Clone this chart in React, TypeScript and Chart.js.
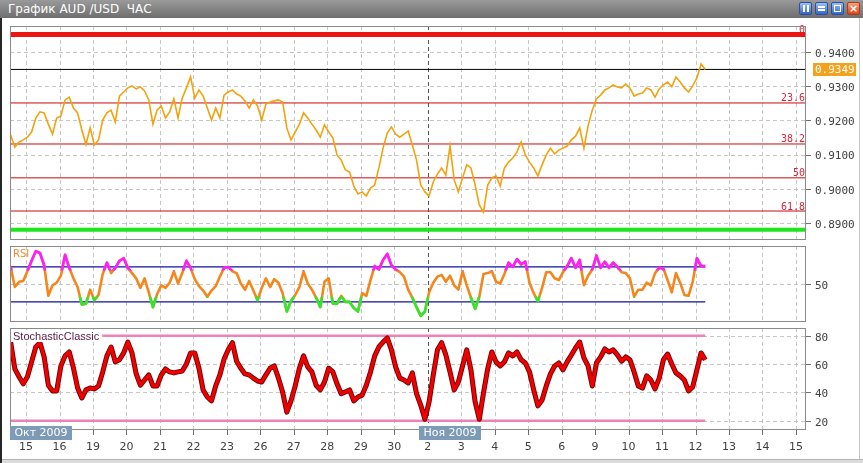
import React, { useEffect, useRef } from 'react';
import { Chart, registerables } from 'chart.js';

Chart.register(...registerables);

// ---------------- data ----------------
const title = 'График AUD /USD  ЧАС';
const dayLabels = ['15', '16', '19', '20', '21', '22', '23', '26', '27', '28', '29', '30', '2', '3', '4', '5', '6', '9', '10', '11', '12', '13', '14', '15'];
const monthLabels = ['Окт 2009', 'Ноя 2009'];
const monthStarts = [-0.48, 11.73];
const monthSeparator = 12;
const xMin = -0.48;
const xMax = 23.3;
const sampleStart = -0.46;
const samplesPerDay = 8;

const priceValues = [
  0.9157, 0.9122, 0.9137, 0.9143, 0.9151, 0.9166, 0.9207, 0.9225, 0.9222, 0.9189,
  0.9160, 0.9207, 0.9213, 0.9260, 0.9268, 0.9236, 0.9222, 0.9172, 0.9130, 0.9178,
  0.9128, 0.9143, 0.9201, 0.9222, 0.9230, 0.9195, 0.9271, 0.9283, 0.9295, 0.9301,
  0.9292, 0.9298, 0.9286, 0.9260, 0.9189, 0.9230, 0.9242, 0.9207, 0.9225, 0.9263,
  0.9207, 0.9265, 0.9295, 0.9327, 0.9265, 0.9289, 0.9271, 0.9236, 0.9201, 0.9236,
  0.9207, 0.9274, 0.9283, 0.9289, 0.9277, 0.9271, 0.9257, 0.9236, 0.9260, 0.9242,
  0.9201, 0.9248, 0.9254, 0.9257, 0.9260, 0.9254, 0.9178, 0.9143, 0.9166, 0.9189,
  0.9222, 0.9207, 0.9189, 0.9172, 0.9151, 0.9187, 0.9166, 0.9149, 0.9099, 0.9084,
  0.9055, 0.9049, 0.9008, 0.8985, 0.8991, 0.8979, 0.9002, 0.9011, 0.9061, 0.9119,
  0.9163, 0.9181, 0.9160, 0.9151, 0.9160, 0.9169, 0.9128, 0.9084, 0.9011, 0.8991,
  0.8979, 0.9020, 0.9043, 0.9061, 0.9040, 0.9125, 0.9026, 0.8991, 0.9032, 0.9070,
  0.9061, 0.9011, 0.8953, 0.8932, 0.9011, 0.9032, 0.9038, 0.9008, 0.9061, 0.9078,
  0.9090, 0.9108, 0.9137, 0.9099, 0.9078, 0.9061, 0.9038, 0.9070, 0.9099, 0.9119,
  0.9102, 0.9113, 0.9119, 0.9125, 0.9143, 0.9154, 0.9178, 0.9119, 0.9184, 0.9230,
  0.9263, 0.9274, 0.9289, 0.9295, 0.9304, 0.9298, 0.9295, 0.9306, 0.9295, 0.9271,
  0.9277, 0.9280, 0.9295, 0.9289, 0.9268, 0.9292, 0.9304, 0.9312, 0.9298, 0.9327,
  0.9312, 0.9295, 0.9283, 0.9301, 0.9324, 0.9365, 0.9349,
];

const rsiValues = [
  70, 47, 53, 54, 65, 77, 88, 86, 72, 37,
  49, 52, 60, 84, 69, 57, 47, 27, 28, 44,
  32, 38, 62, 75, 63, 69, 77, 80, 69, 63,
  57, 46, 57, 41, 24, 39, 49, 46, 52, 65,
  51, 63, 77, 69, 56, 48, 43, 36, 43, 48,
  59, 69, 70, 65, 63, 51, 44, 54, 43, 32,
  46, 57, 47, 56, 52, 40, 19, 31, 38, 47,
  65, 51, 44, 35, 24, 53, 57, 28, 28, 37,
  30, 30, 23, 19, 40, 37, 55, 71, 67, 78,
  85, 72, 67, 64, 59, 44, 35, 24, 14, 19,
  41, 52, 59, 61, 53, 60, 49, 44, 65, 49,
  35, 22, 36, 62, 63, 65, 53, 51, 62, 75,
  70, 79, 73, 76, 52, 40, 31, 46, 64, 64,
  57, 55, 64, 71, 80, 69, 78, 49, 60, 67,
  83, 69, 76, 69, 75, 70, 64, 63, 57, 36,
  44, 44, 52, 49, 63, 69, 68, 55, 41, 63,
  52, 38, 37, 53, 80, 71, 71,
];

const stochValues = [
  75.5, 56.5, 51, 46, 51, 61.5, 72, 75, 65, 45,
  41, 41, 58.6, 65.7, 68.5, 57.2, 43, 36, 41.7, 43,
  42.4, 44.5, 54.4, 65.7, 72, 61.5, 63, 67.8, 75.5, 67.8,
  53, 45, 48.7, 52.3, 44.5, 44.5, 52.3, 56.5, 54.4, 53.7,
  54.4, 55, 60, 67.8, 67.8, 57, 41.7, 36.7, 34, 44.5,
  52.3, 63.5, 70, 75, 62, 57, 53, 52.3, 50, 48,
  47.3, 52.3, 57, 58.6, 50, 40, 26, 34, 44.5, 57,
  65.7, 58, 54.4, 45, 41.7, 47.3, 57, 54.4, 46, 39,
  40.3, 41.7, 34, 36.7, 38, 45, 54.4, 65.7, 72, 75.5,
  78.4, 70, 58, 50, 48.7, 46.6, 53.7, 39, 31, 21,
  33.2, 52.3, 70, 75, 66.4, 54.4, 41.7, 47.3, 58.6, 70,
  55.8, 33.2, 21, 39.6, 56.5, 68.5, 61.5, 58.6, 61.5, 67.8,
  65.7, 68.5, 63, 60.7, 54.4, 41.7, 30.4, 34.6, 44.5, 53,
  58.6, 60.7, 55.8, 61.5, 66.4, 71.3, 75.5, 64.3, 58.6, 44.5,
  60.7, 65, 70.6, 68.5, 70, 66.4, 62, 65, 63, 54.4,
  44.5, 43, 51.6, 48.7, 42.4, 50, 63, 67, 60, 53.7,
  51.6, 48.7, 41, 43.8, 55.8, 67.8, 63,
];

const priceTicks = [0.89, 0.9, 0.91, 0.92, 0.93, 0.94];
const priceMin = 0.88503;
const priceMax = 0.9476;
const fibLevels = [0.9451, 0.9251, 0.9131, 0.9032, 0.8935];
const fibLabels = ['0', '23.6', '38.2', '50', '61.8'];
const supportLevel = 0.888;
const lastPrice = 0.9349;

const rsiTicks = [50];
const rsiLevels = [70, 30];
const rsiHot = 66;
const rsiCold = 36;
const rsiMin = 7;
const rsiMax = 94;

const stochTicks = [20, 40, 60, 80];
const stochLevels = [80, 20];
const stochMin = 13.4;
const stochMax = 85.4;

// ---------------- helpers ----------------
const series = (values: number[]) =>
  values.map((v, i) => ({ x: sampleStart + i / samplesPerDay, y: v }));
const lastX = sampleStart + (priceValues.length - 1) / samplesPerDay;
const hLine = (level: number, x2: number = xMax) => [
  { x: xMin, y: level },
  { x: x2, y: level },
];

const MONO = '"DejaVu Sans Mono"';
const SANS = '"DejaVu Sans"';

function panelPlugin(yTicks: number[]) {
  return {
    id: 'panel',
    beforeDatasetsDraw(chart: any) {
      const { ctx, chartArea: a } = chart;
      const xs = chart.scales.x;
      const ys = chart.scales.y;
      ctx.save();
      ctx.lineWidth = 1;
      ctx.strokeStyle = '#c6c6c6';
      ctx.setLineDash([4, 3]);
      dayLabels.forEach((_, i) => {
        const px = Math.round(xs.getPixelForValue(i)) + 0.5;
        if (px < a.left || px > a.right) return;
        ctx.beginPath();
        ctx.moveTo(px, a.top);
        ctx.lineTo(px, a.bottom);
        ctx.stroke();
      });
      yTicks.forEach((t) => {
        const py = Math.round(ys.getPixelForValue(t)) + 0.5;
        ctx.beginPath();
        ctx.moveTo(a.left, py);
        ctx.lineTo(a.right, py);
        ctx.stroke();
      });
      ctx.strokeStyle = '#555555';
      const sx = Math.round(xs.getPixelForValue(monthSeparator)) + 0.5;
      ctx.beginPath();
      ctx.moveTo(sx, a.top);
      ctx.lineTo(sx, a.bottom);
      ctx.stroke();
      ctx.restore();
    },
    afterDraw(chart: any) {
      const { ctx, chartArea: a } = chart;
      const ys = chart.scales.y;
      ctx.save();
      ctx.lineWidth = 1;
      ctx.strokeStyle = '#8a8a8a';
      ctx.strokeRect(
        Math.round(a.left) + 0.5,
        Math.round(a.top) + 0.5,
        Math.round(a.right - a.left) - 1,
        Math.round(a.bottom - a.top) - 1
      );
      ctx.strokeStyle = '#707070';
      yTicks.forEach((t) => {
        const py = Math.round(ys.getPixelForValue(t)) + 0.5;
        ctx.beginPath();
        ctx.moveTo(a.right, py);
        ctx.lineTo(a.right + 5, py);
        ctx.stroke();
      });
      ctx.restore();
    },
  };
}

const bandClip = {
  id: 'bandClip',
  beforeDatasetDraw(chart: any, args: any) {
    const ds = chart.data.datasets[args.index];
    if (ds.clipAbove === undefined && ds.clipBelow === undefined) return;
    const { ctx, chartArea: a } = chart;
    const ys = chart.scales.y;
    ctx.save();
    ctx.beginPath();
    if (ds.clipAbove !== undefined) {
      const py = ys.getPixelForValue(ds.clipAbove);
      ctx.rect(a.left, a.top - 20, a.right - a.left, py - a.top + 20);
    } else {
      const py = ys.getPixelForValue(ds.clipBelow);
      ctx.rect(a.left, py, a.right - a.left, a.bottom - py + 20);
    }
    ctx.clip();
  },
  afterDatasetDraw(chart: any, args: any) {
    const ds = chart.data.datasets[args.index];
    if (ds.clipAbove === undefined && ds.clipBelow === undefined) return;
    chart.ctx.restore();
  },
};

function baseConfig(opts: {
  datasets: any[];
  yMin: number;
  yMax: number;
  yTicks: number[];
  fmt: (v: number) => string;
  padTop: number;
  showX: boolean;
  plugins: any[];
}) {
  // Chart.js paints the last dataset first, so reverse to keep the listed order bottom-to-top.
  return {
    type: 'line',
    data: { datasets: [...opts.datasets].reverse() },
    options: {
      responsive: false,
      animation: false,
      events: [],
      layout: { padding: { left: 10, right: 0, top: opts.padTop, bottom: 0 } },
      plugins: { legend: { display: false }, tooltip: { enabled: false } },
      elements: { point: { radius: 0 }, line: { tension: 0 } },
      scales: {
        x: {
          type: 'linear',
          min: xMin,
          max: xMax,
          display: opts.showX,
          grid: { display: false, drawTicks: false },
          border: { display: false },
          afterBuildTicks: (s: any) => {
            s.ticks = dayLabels.map((_, i) => ({ value: i }));
          },
          afterFit: (s: any) => {
            s.height = opts.showX ? 33 : 0;
            s.paddingLeft = 0;
            s.paddingRight = 0;
            s.paddingTop = 0;
            s.paddingBottom = 0;
          },
          ticks: {
            autoSkip: false,
            maxRotation: 0,
            minRotation: 0,
            padding: 11,
            color: '#404040',
            font: { family: SANS, size: 11 },
            callback: (_v: any, i: number) => dayLabels[i],
          },
        },
        y: {
          type: 'linear',
          position: 'right',
          min: opts.yMin,
          max: opts.yMax,
          grid: { display: false, drawTicks: false },
          border: { display: false },
          afterBuildTicks: (s: any) => {
            s.ticks = opts.yTicks.map((v) => ({ value: v }));
          },
          afterFit: (s: any) => {
            s.width = 57;
            s.paddingTop = 0;
            s.paddingBottom = 0;
            s.paddingLeft = 0;
            s.paddingRight = 0;
          },
          ticks: {
            padding: 9,
            labelOffset: 2,
            color: '#404040',
            font: { family: MONO, size: 11 },
            callback: (v: any) => opts.fmt(Number(v)),
          },
        },
      },
    },
    plugins: opts.plugins,
  } as any;
}

function priceConfig() {
  const datasets: any[] = [
    { data: hLine(supportLevel), borderColor: '#1ee61e', borderWidth: 4, pointRadius: 0 },
    ...fibLevels.map((lv, k) => ({
      data: hLine(lv),
      borderColor: k === 0 ? '#ee1515' : '#c80a0a',
      borderWidth: k === 0 ? 5 : 1,
      pointRadius: 0,
    })),
    { data: hLine(lastPrice), borderColor: '#000000', borderWidth: 1, pointRadius: 0 },
    { data: series(priceValues), borderColor: '#f2a20c', borderWidth: 1.6, pointRadius: 0 },
  ];
  const labels = {
    id: 'fibLabels',
    afterDatasetsDraw(chart: any) {
      const { ctx, chartArea: a } = chart;
      const ys = chart.scales.y;
      ctx.save();
      ctx.font = '10px ' + MONO;
      ctx.fillStyle = '#d0283a';
      ctx.textAlign = 'right';
      ctx.textBaseline = 'alphabetic';
      fibLevels.forEach((lv, k) => {
        ctx.fillText(fibLabels[k], a.right - 1, ys.getPixelForValue(lv) - 1.5);
      });
      ctx.restore();
    },
    afterDraw(chart: any) {
      const { ctx, chartArea: a } = chart;
      const py = Math.round(chart.scales.y.getPixelForValue(lastPrice));
      ctx.save();
      ctx.fillStyle = '#f4a11c';
      ctx.fillRect(a.right + 7, py - 6, 43, 13);
      ctx.fillStyle = '#ffffff';
      ctx.font = '11px ' + MONO;
      ctx.textBaseline = 'middle';
      ctx.textAlign = 'left';
      ctx.fillText(lastPrice.toFixed(4), a.right + 9, py + 1);
      ctx.restore();
    },
  };
  return baseConfig({
    datasets,
    yMin: priceMin,
    yMax: priceMax,
    yTicks: priceTicks,
    fmt: (v) => v.toFixed(4),
    padTop: 6,
    showX: false,
    plugins: [panelPlugin(priceTicks), labels],
  });
}

function rsiConfig() {
  const data = series(rsiValues);
  const datasets: any[] = [
    ...rsiLevels.map((lv) => ({ data: hLine(lv, lastX), borderColor: '#10109a', borderWidth: 1.2, pointRadius: 0 })),
    { data, borderColor: '#f5861c', borderWidth: 2.6, pointRadius: 0, borderJoinStyle: 'round' },
    { data, borderColor: '#ff1cff', borderWidth: 2.6, pointRadius: 0, borderJoinStyle: 'round', clipAbove: rsiHot },
    { data, borderColor: '#2ee82e', borderWidth: 2.6, pointRadius: 0, borderJoinStyle: 'round', clipBelow: rsiCold },
  ];
  const label = {
    id: 'rsiLabel',
    afterDatasetsDraw(chart: any) {
      const { ctx, chartArea: a } = chart;
      ctx.save();
      ctx.font = '10px ' + SANS;
      ctx.fillStyle = '#f08a30';
      ctx.textBaseline = 'top';
      ctx.fillText('RSI', a.left + 3, a.top + 3);
      ctx.restore();
    },
  };
  return baseConfig({
    datasets,
    yMin: rsiMin,
    yMax: rsiMax,
    yTicks: rsiTicks,
    fmt: (v) => String(v),
    padTop: 4,
    showX: false,
    plugins: [panelPlugin(rsiTicks), bandClip, label],
  });
}

function stochConfig() {
  const data = series(stochValues);
  const datasets: any[] = [
    ...stochLevels.map((lv) => ({ data: hLine(lv, lastX), borderColor: '#ee82b8', borderWidth: 2.5, pointRadius: 0 })),
    { data, borderColor: '#6a0000', borderWidth: 5, pointRadius: 0, borderJoinStyle: 'round' },
    { data, borderColor: '#f20000', borderWidth: 3.2, pointRadius: 0, borderJoinStyle: 'round' },
  ];
  const deco = {
    id: 'stochDeco',
    afterDatasetsDraw(chart: any) {
      const { ctx, chartArea: a } = chart;
      ctx.save();
      ctx.font = '11px "Liberation Sans"';
      const w = ctx.measureText('StochasticClassic').width;
      ctx.fillStyle = '#ffffff';
      ctx.fillRect(a.left + 1, a.top + 2, w + 5, 12);
      ctx.fillStyle = '#5a1848';
      ctx.textBaseline = 'top';
      ctx.fillText('StochasticClassic', a.left + 3, a.top + 3);
      ctx.restore();
    },
    afterDraw(chart: any) {
      const { ctx, chartArea: a } = chart;
      const xs = chart.scales.x;
      ctx.save();
      ctx.strokeStyle = '#707070';
      ctx.lineWidth = 1;
      dayLabels.forEach((_, i) => {
        const px = Math.round(xs.getPixelForValue(i)) + 0.5;
        ctx.beginPath();
        ctx.moveTo(px, a.bottom);
        ctx.lineTo(px, a.bottom + 5);
        ctx.stroke();
      });
      monthLabels.forEach((lab, k) => {
        const px = Math.round(Math.max(a.left, xs.getPixelForValue(monthStarts[k])));
        ctx.fillStyle = '#7d9ab6';
        ctx.fillRect(px, a.bottom - 4, 62, 14);
        ctx.fillStyle = '#ffffff';
        ctx.font = '11px ' + SANS;
        ctx.textAlign = 'center';
        ctx.textBaseline = 'middle';
        ctx.fillText(lab, px + 31, a.bottom + 3.5);
      });
      ctx.restore();
    },
  };
  return baseConfig({
    datasets,
    yMin: stochMin,
    yMax: stochMax,
    yTicks: stochTicks,
    fmt: (v) => String(v),
    padTop: 4,
    showX: true,
    plugins: [panelPlugin(stochTicks), deco],
  });
}

// ---------------- component ----------------
const iconStyle = (close: boolean, k: number): React.CSSProperties => ({
  position: 'absolute',
  top: 2,
  left: 799 + k * 16,
  width: 13,
  height: 13,
  boxSizing: 'border-box',
  borderRadius: 2,
  border: close ? '1px solid #b0391a' : '1px solid #2a4f9e',
  background: close ? 'linear-gradient(#f7a37a, #d9451c)' : 'linear-gradient(#9cc0f4, #3466c8)',
});

export default function App() {
  const pRef = useRef<HTMLCanvasElement>(null);
  const rRef = useRef<HTMLCanvasElement>(null);
  const sRef = useRef<HTMLCanvasElement>(null);

  useEffect(() => {
    const charts = [
      new Chart(pRef.current as any, priceConfig()),
      new Chart(rRef.current as any, rsiConfig()),
      new Chart(sRef.current as any, stochConfig()),
    ];
    return () => charts.forEach((c) => c.destroy());
  }, []);

  const bar = (l: number, t: number, w: number, h: number) => (
    <div style={{ position: 'absolute', left: l, top: t, width: w, height: h, background: '#ffffff' }} />
  );

  return (
    <div
      style={{
        position: 'fixed',
        left: 0,
        top: 0,
        width: 863,
        height: 463,
        background: '#ffffff',
        overflow: 'hidden',
      }}
    >
      <div
        style={{
          position: 'absolute',
          left: 0,
          top: 0,
          width: 863,
          height: 18,
          background: 'linear-gradient(#9a9a9a, #6e6e6e)',
          color: '#ffffff',
          font: '12px "DejaVu Sans"',
          lineHeight: '18px',
          paddingLeft: 8,
          boxSizing: 'border-box',
          whiteSpace: 'pre',
        }}
      >
        {title}
      </div>
      <div style={iconStyle(false, 0)}>
        {bar(3, 2, 2, 7)}
        {bar(7, 2, 2, 7)}
      </div>
      <div style={iconStyle(false, 1)}>
        {bar(2, 3, 7, 2)}
        {bar(2, 6, 7, 2)}
      </div>
      <div style={iconStyle(false, 2)}>
        <div style={{ position: 'absolute', left: 2, top: 2, width: 5, height: 5, border: '1px solid #fff' }} />
      </div>
      <div style={{ ...iconStyle(true, 3), color: '#fff', font: 'bold 11px "DejaVu Sans"', lineHeight: '11px', textAlign: 'center' }}>×</div>

      <canvas ref={pRef} width={863} height={220} style={{ position: 'absolute', left: 0, top: 20 }} />
      <canvas ref={rRef} width={863} height={80} style={{ position: 'absolute', left: 0, top: 242 }} />
      <canvas ref={sRef} width={863} height={139} style={{ position: 'absolute', left: 0, top: 324 }} />

      <div style={{ position: 'absolute', left: 0, top: 18, width: 2, height: 445, background: '#262626' }} />
      <div style={{ position: 'absolute', left: 859, top: 18, width: 1, height: 442, background: '#c8c8c8' }} />
      <div style={{ position: 'absolute', left: 2, top: 459, width: 861, height: 4, background: '#dcdcdc', borderTop: '1px solid #b4b4b4', boxSizing: 'border-box' }} />
    </div>
  );
}
